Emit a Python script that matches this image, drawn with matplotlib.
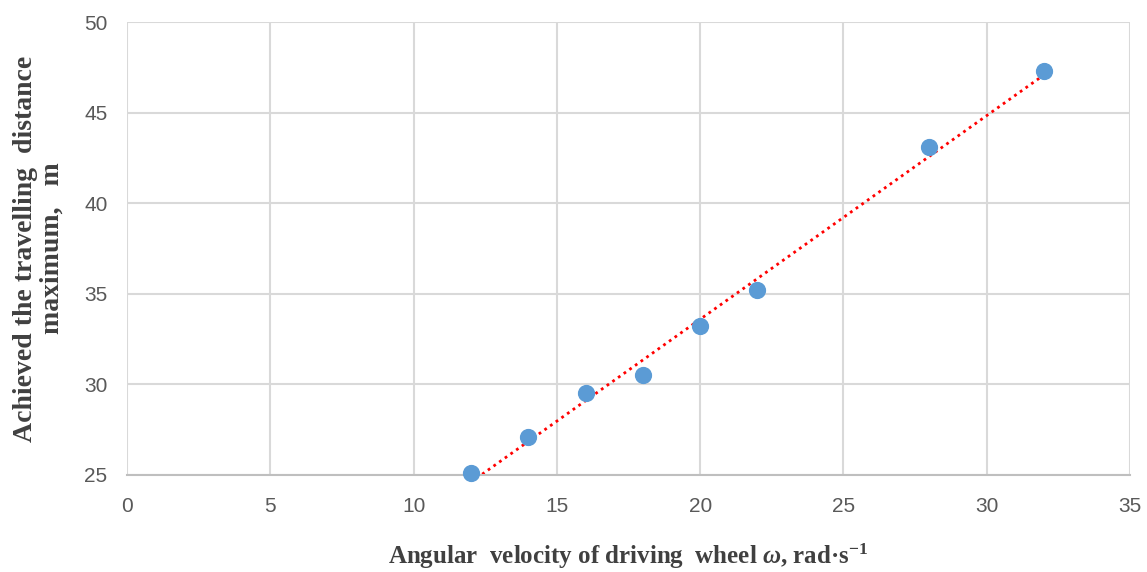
import numpy as np
import matplotlib.pyplot as plt

plt.rcParams['mathtext.fontset'] = 'custom'
plt.rcParams['mathtext.it'] = 'Liberation Serif:bold:italic'
plt.rcParams['mathtext.rm'] = 'Liberation Serif:bold'

# angular velocity (rad/s) and achieved max travelling distance (m)
omega = [12, 14, 16, 18, 20, 22, 28, 32]
distance = [25.1, 27.1, 29.5, 30.5, 33.2, 35.2, 43.1, 47.3]

x_ticks = [0, 5, 10, 15, 20, 25, 30, 35]
y_ticks = [25, 30, 35, 40, 45, 50]

fig = plt.figure(figsize=(11.47, 5.72), dpi=100)
ax = fig.add_axes([127 / 1147, 1 - 475 / 572, (1130 - 127) / 1147, (475 - 22) / 572])

# linear trendline
k, b = np.polyfit(omega, distance, 1)
xs = np.array([min(omega), max(omega)])
ax.plot(xs, k * xs + b, color='#ff0000', linestyle=(0, (1, 1.5)), linewidth=2, zorder=2)

ax.scatter(omega, distance, s=130, color='#5b9bd5', zorder=3, clip_on=False)

ax.set_xlim(0, 35)
ax.set_ylim(25, 50)
ax.set_xticks(x_ticks)
ax.set_yticks(y_ticks)
ax.grid(True, color='#d9d9d9', linewidth=1.5)
ax.set_axisbelow(True)
for side in ['top', 'right', 'left']:
    ax.spines[side].set_visible(False)
ax.spines['bottom'].set_color('#bfbfbf')
ax.spines['bottom'].set_linewidth(1.5)
ax.tick_params(length=0, labelsize=15, labelcolor='#595959')
ax.tick_params(axis='x', pad=16)
ax.tick_params(axis='y', pad=14)
for lab in ax.get_xticklabels() + ax.get_yticklabels():
    lab.set_family('Liberation Sans')

ax.set_xlabel('Angular  velocity of driving  wheel $\\omega$, rad·s$^{\\mathregular{-1}}$',
              fontsize=18, fontweight='bold', family='Liberation Serif', color='#404040', labelpad=18)
ax.set_ylabel('Achieved the travelling  distance\nmaximum,   m',
              fontsize=20, fontweight='bold', family='Liberation Serif', color='#404040',
              labelpad=14, linespacing=1.1)

fig.savefig('out.png', dpi=100)
